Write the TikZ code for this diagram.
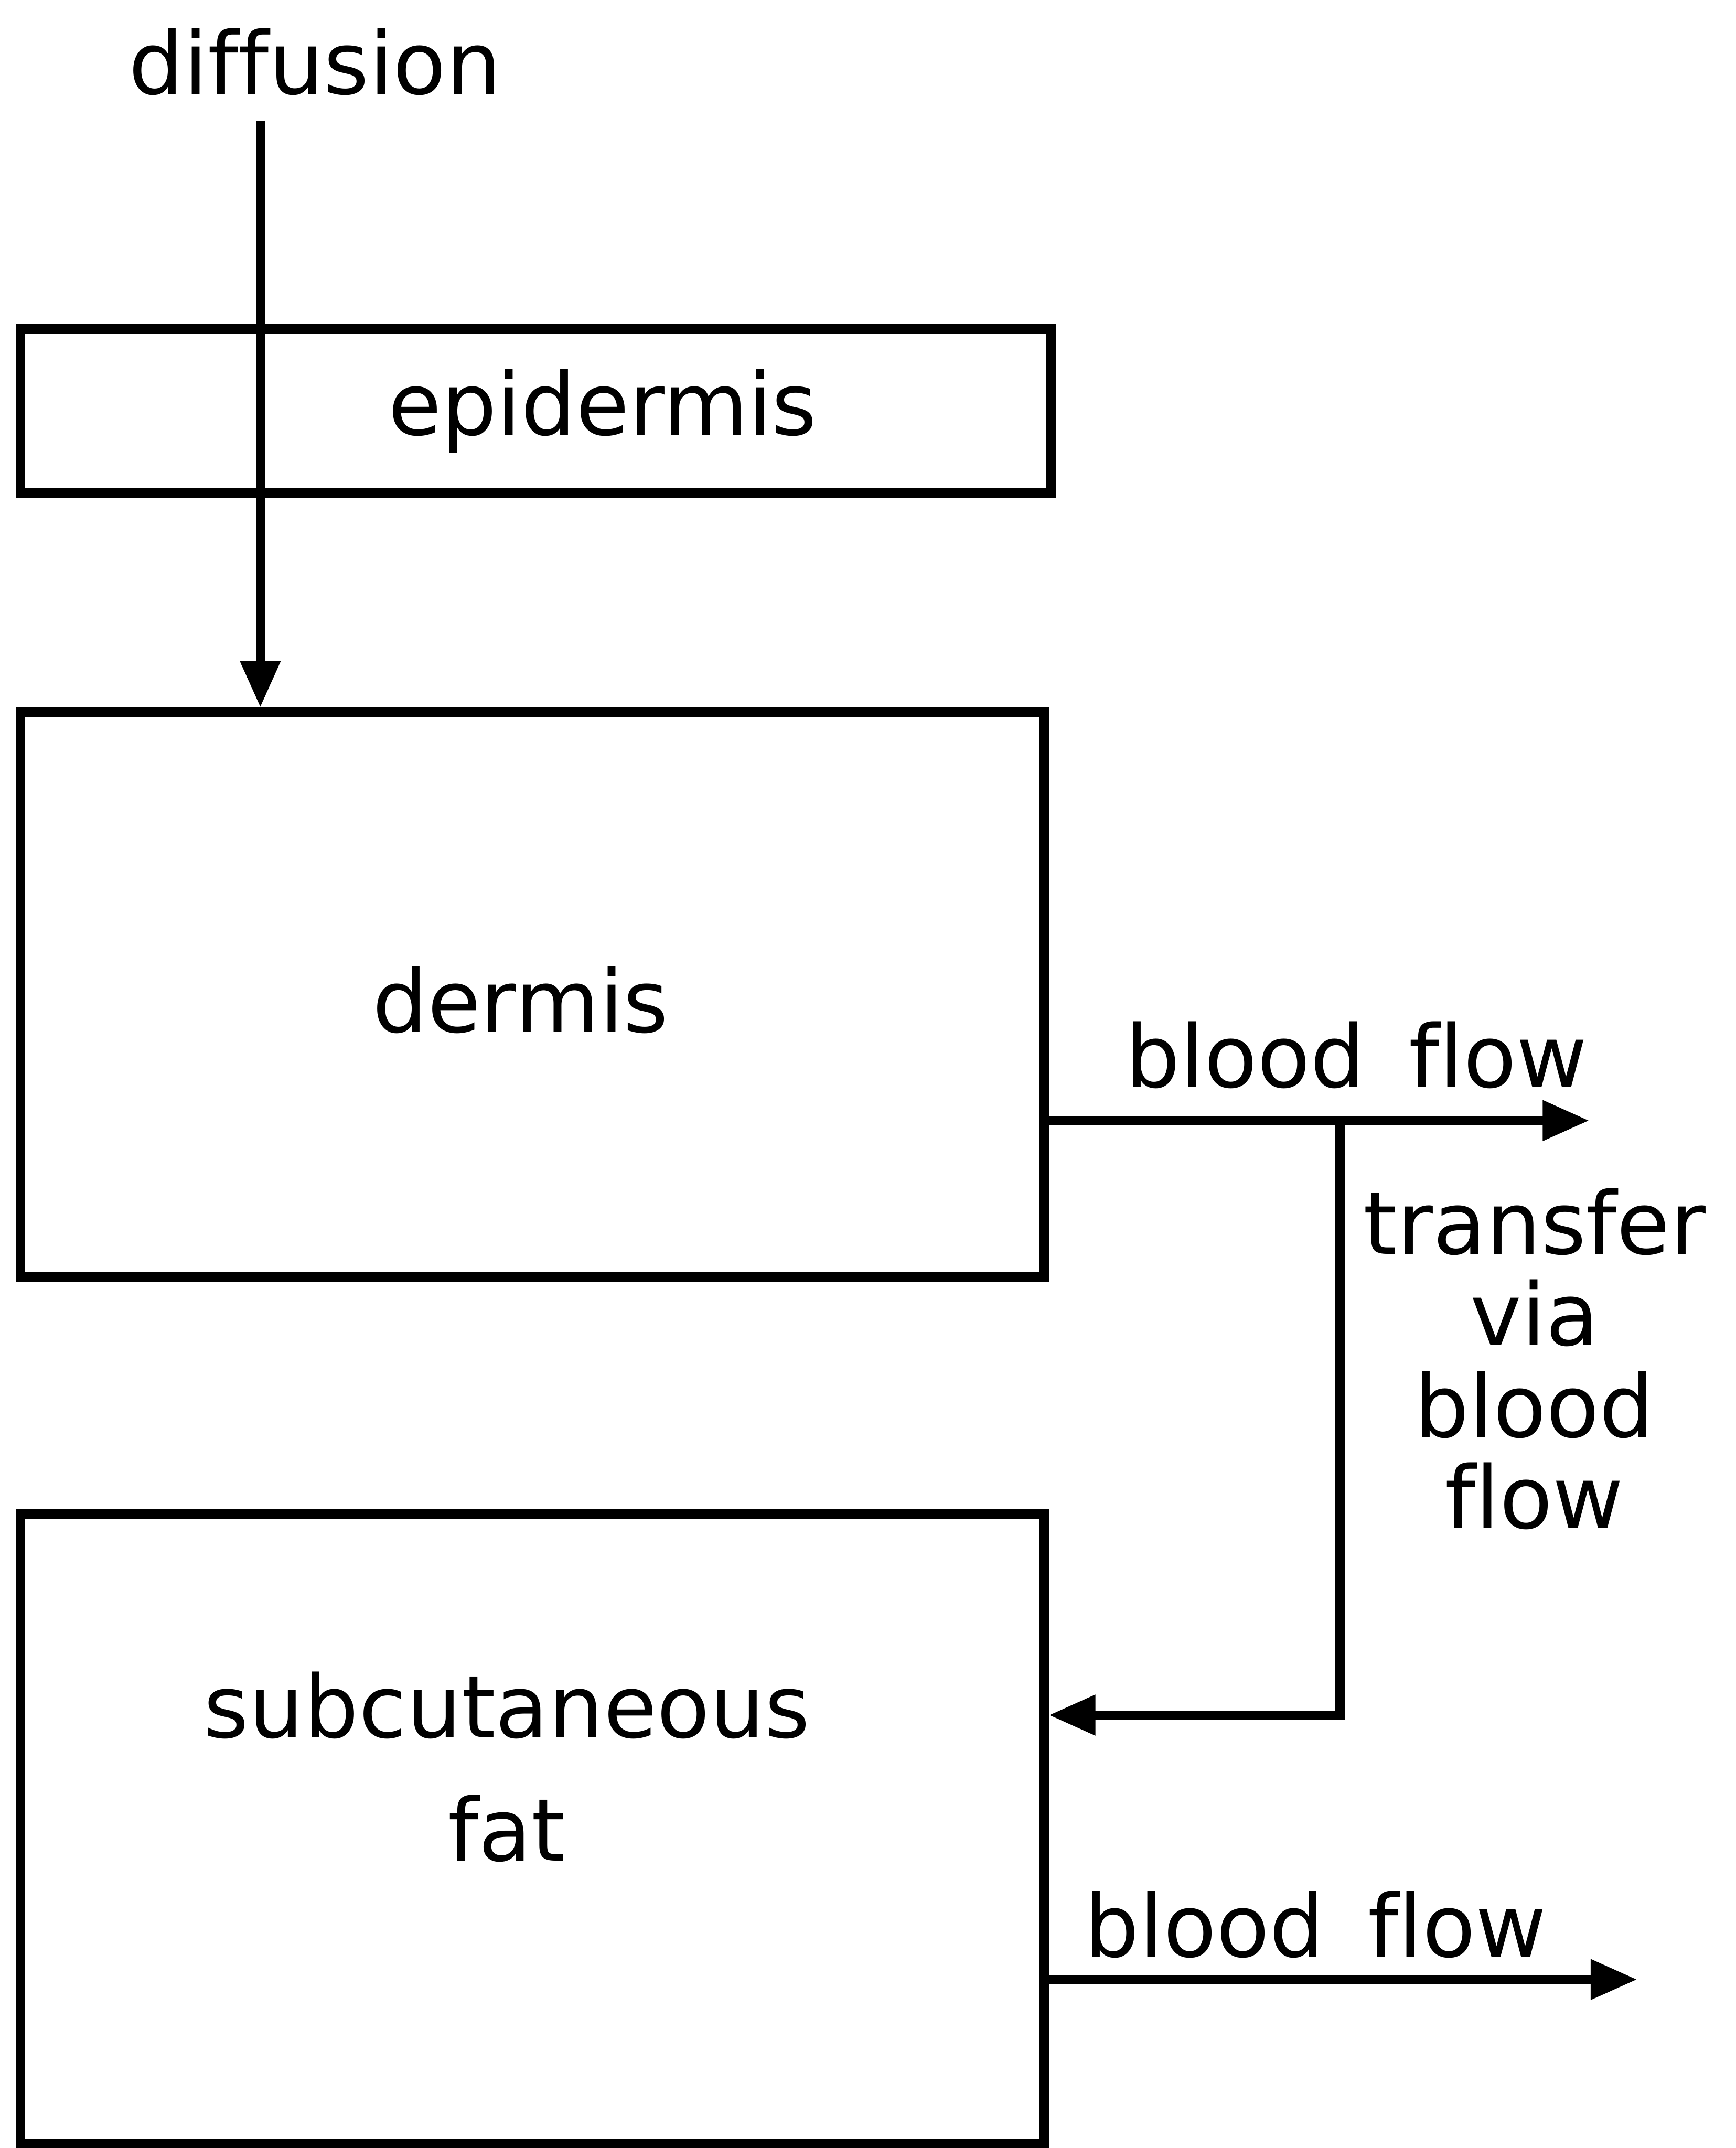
\documentclass[tikz,border=0pt]{standalone}
\usepackage{fontspec}
\setmainfont[Ligatures=NoCommon]{DejaVu Sans}
\usepackage{tikz}
\usetikzlibrary{calc,arrows.meta,positioning}
\tikzset{
  ar/.style={-{Triangle[length=3.4mm,width=2.8mm]},line width=1.9pt},
  box/.style={draw,line width=2pt,inner sep=0pt},
  lbl/.style={font=\fontsize{18}{19}\selectfont,align=center,inner sep=0pt}
}
\begin{document}
\begin{tikzpicture}
\useasboundingbox (0,0) rectangle (12.67,15.68);
% layers
\node[box,minimum width=7.52cm,minimum height=1.20cm] (epi) at (3.91,12.68) {};
\node[box,minimum width=7.47cm,minimum height=4.12cm] (derm) at (3.885,8.42) {};
\node[box,minimum width=7.47cm,minimum height=4.60cm] (sub) at (3.885,2.33) {};
\node[lbl] (epitxt) at (4.40,12.68) {epidermis};
\node[lbl] (dermtxt) at (3.80,8.38) {dermis};
\node[lbl,font=\fontsize{18}{25.6}\selectfont] (subtxt) at (3.70,2.78) {subcutaneous\\fat};
% diffusion
\node[lbl] (diff) at (2.30,15.23) {diffusion};
\coordinate (dtop) at (1.90,14.80);
\draw[ar] (dtop) -- (dtop |- derm.north);
% blood flow
\coordinate (bf1) at (11.60,7.50);
\coordinate (jn) at (9.78,7.50);
\coordinate (jd) at (9.78,3.16);
\coordinate (bf2) at (11.95,1.23);
\draw[ar] (derm.east |- bf1) -- (bf1);
\draw[ar] (jn) -- (jd) -- (sub.east |- jd);
\draw[ar] (sub.east |- bf2) -- (bf2);
\node[lbl] (bftxt1) at (9.90,7.98) {blood\enspace flow};
\node[lbl] (trtxt) at (11.20,5.76) {transfer\\via\\blood\\flow};
\node[lbl] (bftxt2) at (9.60,1.63) {blood\enspace flow};
\end{tikzpicture}
\end{document}
